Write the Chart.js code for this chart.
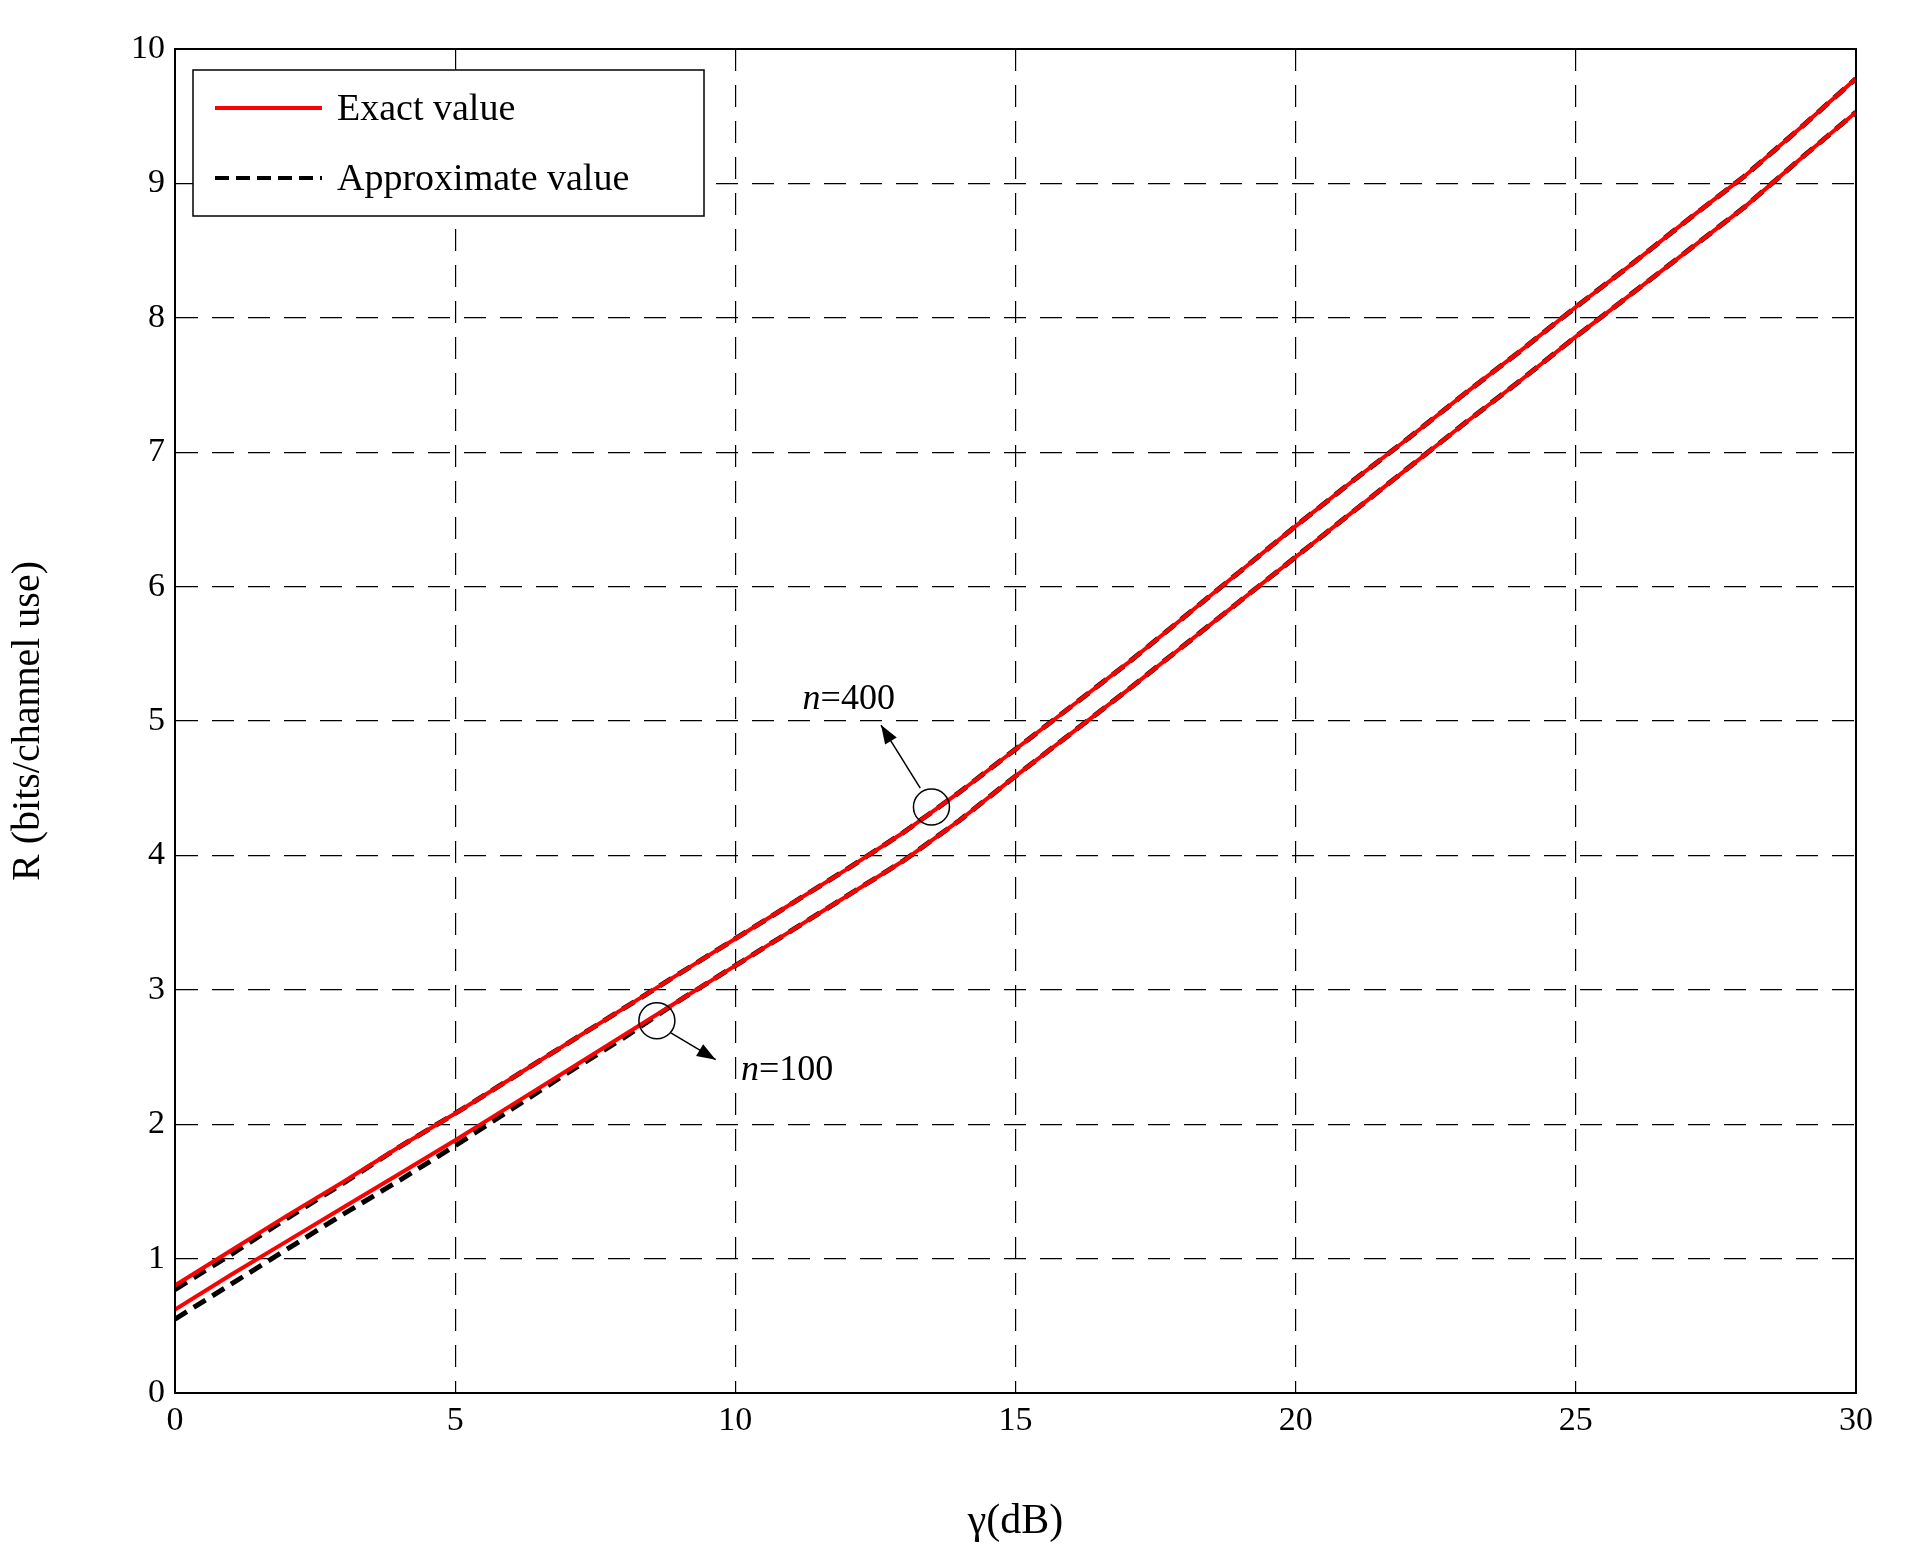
<!DOCTYPE html>
<html><head><meta charset="utf-8">
<script src="https://cdn.jsdelivr.net/npm/chart.js@4"></script>
<style>body{margin:0;background:#fff}</style></head>
<body><canvas id="c" width="1910" height="1551"></canvas>
<script>
const gammaDb = [0,1,2,3,4,5,6,7,8,9,10,11,12,13,14,15,16,17,18,19,20,21,22,23,24,25,26,27,28,29,30];
const exact400 = [0.80,1.06,1.32,1.57,1.83,2.08,2.34,2.60,2.86,3.12,3.38,3.64,3.90,4.17,4.47,4.79,5.11,5.43,5.77,6.11,6.45,6.78,7.10,7.43,7.75,8.08,8.40,8.73,9.05,9.41,9.78];
const approx400 = [0.77,1.03,1.30,1.56,1.83,2.08,2.34,2.60,2.86,3.12,3.38,3.64,3.90,4.17,4.47,4.79,5.11,5.43,5.77,6.11,6.45,6.78,7.10,7.43,7.75,8.08,8.40,8.73,9.05,9.41,9.78];
const exact100 = [0.62,0.88,1.13,1.38,1.63,1.88,2.14,2.40,2.66,2.92,3.18,3.44,3.70,3.96,4.26,4.59,4.91,5.23,5.56,5.89,6.22,6.55,6.88,7.21,7.53,7.86,8.18,8.50,8.82,9.18,9.53];
const approx100 = [0.55,0.81,1.07,1.33,1.58,1.84,2.11,2.38,2.64,2.92,3.18,3.44,3.70,3.96,4.26,4.59,4.91,5.23,5.56,5.89,6.22,6.55,6.88,7.21,7.53,7.86,8.18,8.50,8.82,9.18,9.53];
const legendLabels = ["Exact value","Approximate value"];
const FONT = "'Liberation Serif', 'DejaVu Serif', serif";
const pts = a => a.map((v,i)=>({x:gammaDb[i],y:v}));
const redStyle = {borderColor:'#ff0000',borderWidth:4,pointRadius:0,fill:false,tension:0};
const blkStyle = {borderColor:'#000',borderWidth:5,borderDash:[14,8],pointRadius:0,fill:false,tension:0};

const deco = {
  id:'deco',
  afterDraw(ch){
    const c=ch.ctx, a=ch.chartArea, xs=ch.scales.x, ys=ch.scales.y;
    c.save();
    c.strokeStyle='#000'; c.lineWidth=2;
    c.strokeRect(a.left,a.top,a.right-a.left,a.bottom-a.top);
    // legend
    c.fillStyle='#fff'; c.fillRect(193,70,511,146);
    c.lineWidth=1.5; c.strokeRect(193,70,511,146);
    c.font='38px '+FONT; c.fillStyle='#000'; c.textBaseline='middle';
    c.strokeStyle='#ff0000'; c.lineWidth=4; c.setLineDash([]);
    c.beginPath(); c.moveTo(215,108); c.lineTo(322,108); c.stroke();
    c.fillText(legendLabels[0],337,110);
    c.strokeStyle='#000'; c.lineWidth=4; c.setLineDash([14,7]);
    c.beginPath(); c.moveTo(215,178); c.lineTo(322,178); c.stroke();
    c.setLineDash([]);
    c.fillText(legendLabels[1],337,180);
    // annotations
    const P=(x,y)=>[xs.getPixelForValue(x),ys.getPixelForValue(y)];
    function circ(x,y){const [px,py]=P(x,y);c.lineWidth=1.5;c.strokeStyle='#000';c.beginPath();c.arc(px,py,18,0,Math.PI*2);c.stroke();}
    function arrow(x0,y0,x1,y1){const [a0,b0]=P(x0,y0),[a1,b1]=P(x1,y1);c.lineWidth=1.5;c.beginPath();c.moveTo(a0,b0);c.lineTo(a1,b1);c.stroke();
      const ang=Math.atan2(b1-b0,a1-a0),L=20,W=0.35;c.beginPath();c.moveTo(a1,b1);c.lineTo(a1-L*Math.cos(ang-W),b1-L*Math.sin(ang-W));c.lineTo(a1-L*Math.cos(ang+W),b1-L*Math.sin(ang+W));c.closePath();c.fill();}
    circ(13.5,4.36); arrow(13.3,4.5,12.6,4.97);
    circ(8.6,2.77); arrow(8.85,2.68,9.65,2.48);
    function lab(x,y,t){const [px,py]=P(x,y);c.textBaseline='middle';c.font='italic 36px '+FONT;c.fillText('n',px,py);const w=c.measureText('n').width;c.font='36px '+FONT;c.fillText('=' + t,px+w,py);}
    lab(11.2,5.16,'400'); lab(10.1,2.4,'100');
    c.restore();
  }
};

new Chart(document.getElementById('c'),{
  type:'line',
  data:{datasets:[
    Object.assign({label:'Exact value n=400',data:pts(exact400)},redStyle),
    Object.assign({label:'Exact value n=100',data:pts(exact100)},redStyle),
    Object.assign({label:'Approximate value n=400',data:pts(approx400)},blkStyle),
    Object.assign({label:'Approximate value n=100',data:pts(approx100)},blkStyle)
  ]},
  options:{
    responsive:false,animation:false,devicePixelRatio:1,
    layout:{padding:{top:49,right:54,left:0,bottom:0}},
    plugins:{legend:{display:false},tooltip:{enabled:false}},
    scales:{
      x:{type:'linear',min:0,max:30,
        ticks:{stepSize:5,color:'#000',font:{family:FONT,size:34},padding:8},
        grid:{color:'#000',lineWidth:1.2,drawTicks:false,tickBorderDash:[],},
        border:{display:true,color:'#000',width:2,dash:[22,14]},
        title:{display:true,text:'γ(dB)',color:'#000',font:{family:FONT,size:42},padding:{top:6}},
        afterFit(s){s.height=158;}
      },
      y:{min:0,max:10,
        ticks:{stepSize:1,color:'#000',font:{family:FONT,size:34},padding:10},
        grid:{color:'#000',lineWidth:1.2,drawTicks:false},
        border:{display:true,color:'#000',width:2,dash:[22,14]},
        title:{display:true,text:'R (bits/channel use)',color:'#000',font:{family:FONT,size:40},padding:{bottom:10}},
        afterFit(s){s.width=175;}
      }
    }
  },
  plugins:[deco]
});
</script></body></html>
